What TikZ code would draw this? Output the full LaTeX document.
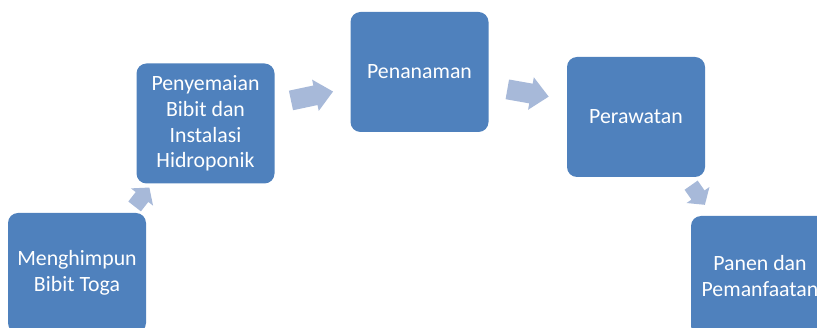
\documentclass[tikz,border=0pt]{standalone}
\usepackage{fontspec}
\setmainfont{Carlito}
\definecolor{boxc}{HTML}{4F81BD}
\definecolor{arrowc}{HTML}{A7B9D9}
\tikzset{
  stepbox/.style={draw=none, fill=boxc, rounded corners=10pt, minimum width=138pt, minimum height=120pt,
    text=white, align=center, inner sep=2pt, font=\fontsize{21.8pt}{25.7pt}\selectfont},
}
\newcommand\blockarrow[6]{% coordinate, angle, length, head width, shaft width, head length
  \begin{scope}[shift={(#1)}, rotate=#2]
    \fill[arrowc] (-#3/2,-#5/2) -- (#3/2-#6,-#5/2) -- (#3/2-#6,-#4/2) -- (#3/2,0)
      -- (#3/2-#6,#4/2) -- (#3/2-#6,#5/2) -- (-#3/2,#5/2) -- cycle;
  \end{scope}}
\begin{document}
\begin{tikzpicture}[x=1pt,y=-1pt]
\useasboundingbox (0,0) rectangle (817,328);
\clip (0,0) rectangle (817,328);
\node[stepbox] (b1) at (77,273) {Menghimpun\\Bibit Toga};
\node[stepbox] (b2) at (205.5,123.5) {Penyemaian\\Bibit dan\\Instalasi\\Hidroponik};
\node[stepbox] (b3) at (419.5,72) {Penanaman};
\node[stepbox] (b4) at (636,117) {Perawatan};
\node[stepbox] (b5) at (760,276) {Panen dan\\Pemanfaatan};
\coordinate (a1) at (142,197);
\coordinate (a2) at (312,96);
\coordinate (a3) at (528,93);
\coordinate (a4) at (698,195);
\blockarrow{a1}{52}{24}{28}{16}{12}
\blockarrow{a2}{12}{43}{32}{20}{18}
\blockarrow{a3}{-10}{42}{33}{20}{18}
\blockarrow{a4}{-55}{24}{28}{16}{12}
\end{tikzpicture}
\end{document}
